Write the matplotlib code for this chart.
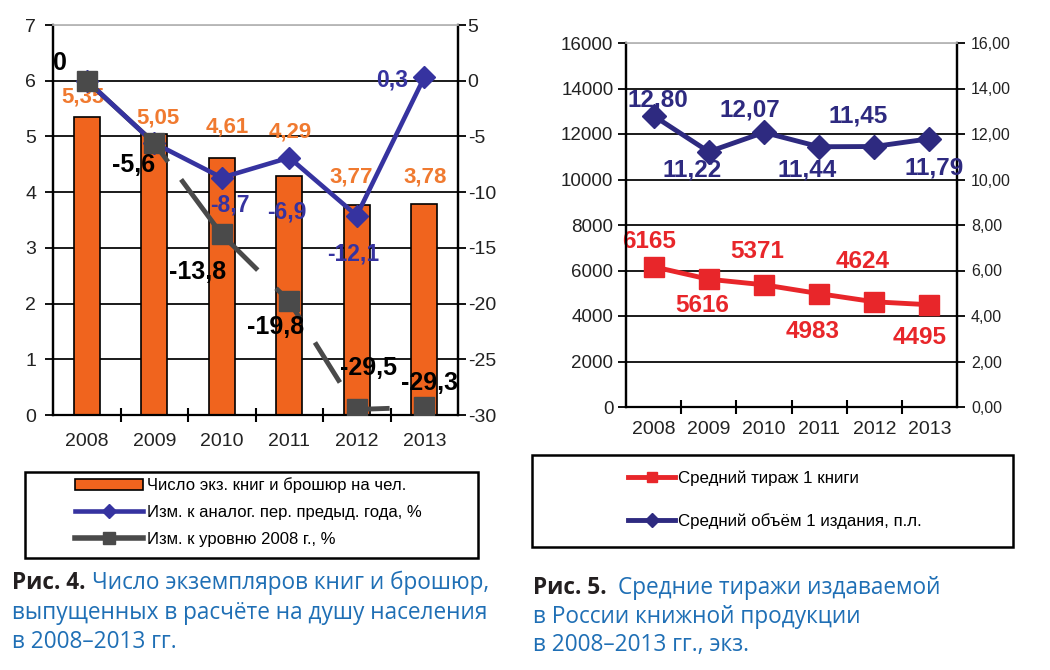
import numpy as np
import matplotlib
matplotlib.use("Agg")
import matplotlib.pyplot as plt
from matplotlib.lines import Line2D
from matplotlib.patches import Patch, Rectangle
from matplotlib.ticker import FuncFormatter

plt.rcParams['font.family'] = ['Liberation Sans', 'DejaVu Sans']
plt.rcParams['axes.unicode_minus'] = False

# ---- data ----
years = ['2008', '2009', '2010', '2011', '2012', '2013']
copies_per_capita = [5.35, 5.05, 4.61, 4.29, 3.77, 3.78]
change_prev_year = [0, -5.6, -8.7, -6.9, -12.1, 0.3]
change_vs_2008 = [0, -5.6, -13.8, -19.8, -29.5, -29.3]
avg_print_run = [6165, 5616, 5371, 4983, 4624, 4495]
avg_volume = [12.80, 11.22, 12.07, 11.44, 11.45, 11.79]

ORANGE = '#f0641e'
ORANGE_TXT = '#f07a30'
PURPLE = '#3633a0'
GRAY = '#4a4a4a'
RED = '#e8262a'
NAVY = '#2e2a80'
CAP_BLUE = '#1f6fb5'
GRID = '#1a1a1a'

W, H = 1050, 670
fig = plt.figure(figsize=(W / 100, H / 100), dpi=100)
fig.patch.set_facecolor('white')


def box(x0, y0, x1, y1):
    # pixel box (top-left origin) -> figure fraction rect
    return [x0 / W, 1 - y1 / H, (x1 - x0) / W, (y1 - y0) / H]


def comma(v, fmt):
    return format(v, fmt).replace('.', ',')


def style_axes(ax, ax2, fs_x, fs_y, pad_x):
    x = np.arange(len(years))
    ax.set_xlim(-0.5, len(years) - 0.5)
    ax.set_xticks(x)
    ax.set_xticklabels(years, fontsize=fs_x, color='#222222')
    ax.set_xticks(np.arange(0.5, len(years) - 1, 1), minor=True)
    ax.tick_params(axis='x', which='major', length=0, pad=pad_x)
    ax.tick_params(axis='x', which='minor', direction='inout', length=10, width=1.5, color='black')
    ax.tick_params(axis='y', direction='out', length=6, width=1.3, labelsize=fs_y, labelcolor='#222222')
    ax2.tick_params(axis='y', direction='out', length=6, width=1.3, labelsize=fs_y, labelcolor='#222222')
    ax.grid(axis='y', color=GRID, linewidth=1.4)
    ax.set_axisbelow(True)
    for a in (ax, ax2):
        for s in ('left', 'right', 'bottom'):
            a.spines[s].set_color('black')
            a.spines[s].set_linewidth(1.6)
        a.spines['top'].set_color('#bbbbbb')
        a.spines['top'].set_linewidth(1.2)
    ax2.spines['bottom'].set_visible(False)


def put_labels(ax, values, texts, offsets, color, size):
    for i, (v, t, off) in enumerate(zip(values, texts, offsets)):
        if off is None:
            continue
        ax.annotate(t, (i, v), xytext=(off[0], -off[1]), textcoords='offset pixels',
                    ha='center', va='center', fontsize=size, fontweight='bold', color=color,
                    zorder=10)


# ================= Fig. 4 =================
x = np.arange(len(years))
axL = fig.add_axes(box(53, 25, 458, 415))
axL2 = axL.twinx()
axL.bar(x, copies_per_capita, width=0.38, color=ORANGE, edgecolor='black', linewidth=1.2, zorder=2)
axL.set_ylim(0, 7)
axL.set_yticks(range(0, 8))
axL2.set_ylim(-30, 5)
axL2.set_yticks(range(-30, 6, 5))

# broken grey line as in the scan
axL2.plot(x, change_vs_2008, color=GRAY, linewidth=3.5,
          linestyle=(0, (23.7, 4.5, 24.5, 5.3, 8.0, 5.8, 9.7, 8.8, 4.5, 12.3)), zorder=3)
axL2.plot(x, change_prev_year, color=PURPLE, linewidth=3.3, marker='D', markersize=11,
          markerfacecolor=PURPLE, markeredgecolor=PURPLE, zorder=4)
axL2.plot(x, change_vs_2008, linestyle='none', marker='s', markersize=14,
          markerfacecolor=GRAY, markeredgecolor=GRAY, zorder=5)

style_axes(axL, axL2, 14, 14, 13)
axL.tick_params(axis='y', pad=6)
axL2.tick_params(axis='y', pad=1)

put_labels(axL, copies_per_capita, [comma(v, '.2f') for v in copies_per_capita],
           [(-4, -20), (4, -16), (5, -31), (1, -44), (-6, -28), (1, -27)], ORANGE_TXT, 16)
put_labels(axL2, change_vs_2008, [comma(v, 'g') for v in change_vs_2008],
           [(-27, -18), (-21, 22), (-24, 38), (-14, 26), (12, -41), (5, -24)], 'black', 18)
put_labels(axL2, change_prev_year, [comma(v, 'g') for v in change_prev_year],
           [None, None, (8, 27), (-2, 54), (-4, 38), (-32, 3)], PURPLE, 16.5)

# legend of Fig. 4
fig.patches.append(Rectangle((25 / W, 1 - 558 / H), 453 / W, 86 / H, transform=fig.transFigure,
                             fill=False, edgecolor='black', linewidth=1.8))
hL = [Patch(facecolor=ORANGE, edgecolor='black', linewidth=1.2),
      Line2D([], [], color=PURPLE, linewidth=3.3, marker='D', markersize=7),
      Line2D([], [], color=GRAY, linewidth=4, marker='s', markersize=8)]
fig.legend(hL, ['Число экз. книг и брошюр на чел.',
                'Изм. к аналог. пер. предыд. года, %',
                'Изм. к уровню 2008 г., %'],
           loc='center left', bbox_to_anchor=(75 / W, 1 - 512 / H), frameon=False,
           fontsize=12, handlelength=4.1, handletextpad=0.2, labelspacing=0.7,
           borderpad=0, borderaxespad=0)

# caption of Fig. 4
cap_font = ['Open Sans', 'DejaVu Sans']
CAP = 16.3
fig.text(12 / W, 1 - 583 / H, 'Рис. 4.', fontsize=CAP, fontweight='bold', color='#231f20',
         family=cap_font, va='center')
fig.text(92 / W, 1 - 583 / H, 'Число экземпляров книг и брошюр,', fontsize=CAP, color=CAP_BLUE,
         family=cap_font, va='center')
fig.text(12 / W, 1 - 613 / H, 'выпущенных в расчёте на душу населения', fontsize=CAP,
         color=CAP_BLUE, family=cap_font, va='center')
fig.text(12 / W, 1 - 642 / H, 'в 2008–2013 гг.', fontsize=CAP, color=CAP_BLUE,
         family=cap_font, va='center')

# ================= Fig. 5 =================
axR = fig.add_axes(box(626, 43, 957, 407))
axR2 = axR.twinx()
axR.set_ylim(0, 16000)
axR.set_yticks(range(0, 16001, 2000))
axR2.set_ylim(0, 16)
axR2.set_yticks(range(0, 17, 2))
axR2.yaxis.set_major_formatter(FuncFormatter(lambda v, p: comma(v, '.2f')))

axR.plot(x, avg_print_run, color=RED, linewidth=3.5, marker='s', markersize=14,
         markerfacecolor=RED, markeredgecolor=RED, zorder=3)
axR2.plot(x, avg_volume, color=NAVY, linewidth=3.5, marker='D', markersize=12,
          markerfacecolor=NAVY, markeredgecolor=NAVY, zorder=3)

style_axes(axR, axR2, 14, 13.5, 10)
axR.tick_params(axis='y', pad=3)
axR2.tick_params(axis='y', pad=4, labelsize=11.5)

put_labels(axR, avg_print_run, [str(v) for v in avg_print_run],
           [(-5, -25), (-7, 26), (-7, -33), (-6, 38), (-12, -40), (-10, 33)], RED, 17.5)
put_labels(axR2, avg_volume, [comma(v, '.2f') for v in avg_volume],
           [(4, -16), (-17, 18), (-14, -22), (-12, 23), (-16, -31), (5, 29)], NAVY, 17.5)

# legend of Fig. 5
fig.patches.append(Rectangle((532 / W, 1 - 547 / H), 481 / W, 92 / H, transform=fig.transFigure,
                             fill=False, edgecolor='black', linewidth=1.8))
hR = [Line2D([], [], color=RED, linewidth=3.5, marker='s', markersize=7),
      Line2D([], [], color=NAVY, linewidth=3.5, marker='D', markersize=7)]
fig.legend(hR, ['Средний тираж 1 книги', 'Средний объём 1 издания, п.л.'],
           loc='center left', bbox_to_anchor=(628 / W, 1 - 500 / H), frameon=False,
           fontsize=12.2, handlelength=2.8, handletextpad=0.15, labelspacing=1.6,
           borderpad=0, borderaxespad=0)

# caption of Fig. 5
fig.text(533 / W, 1 - 588 / H, 'Рис. 5.', fontsize=CAP, fontweight='bold', color='#231f20',
         family=cap_font, va='center')
fig.text(618 / W, 1 - 588 / H, 'Средние тиражи издаваемой', fontsize=CAP, color=CAP_BLUE,
         family=cap_font, va='center')
fig.text(533 / W, 1 - 617 / H, 'в России книжной продукции', fontsize=CAP, color=CAP_BLUE,
         family=cap_font, va='center')
fig.text(533 / W, 1 - 645 / H, 'в 2008–2013 гг., экз.', fontsize=CAP, color=CAP_BLUE,
         family=cap_font, va='center')

fig.savefig('out.png', dpi=100, facecolor='white')
